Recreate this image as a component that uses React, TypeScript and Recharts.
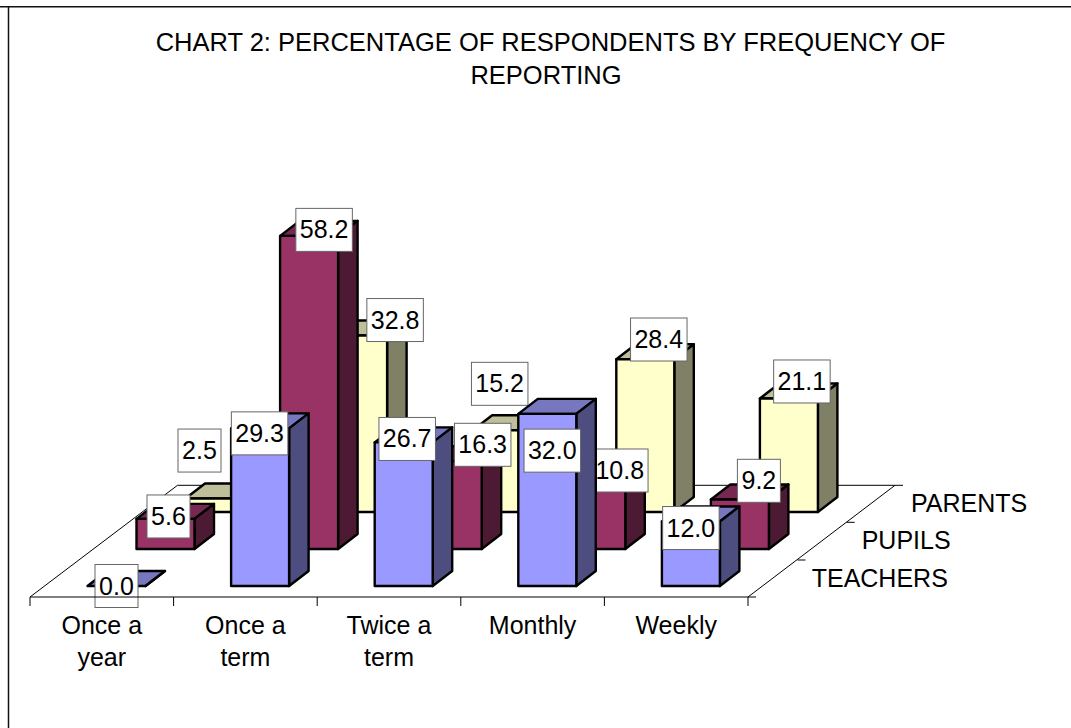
import { BarChart, Bar, XAxis, YAxis, LabelList, Customized } from 'recharts';

const categories = ['Once a year', 'Once a term', 'Twice a term', 'Monthly', 'Weekly'];
const teachers = [0.0, 29.3, 26.7, 32.0, 12.0];
const pupils = [5.6, 58.2, 16.3, 10.8, 9.2];
const parents = [2.5, 32.8, 15.2, 28.4, 21.1];

const titleLines = ['CHART 2: PERCENTAGE OF RESPONDENTS BY FREQUENCY OF', 'REPORTING'];

const FONT = '"Liberation Sans", Arial, sans-serif';
const FONT_SIZE = 25;
const TITLE_SIZE = 25.5;

// label boxes were dragged by hand in the original, so each one has its own shift
const teacherLabelShift = [[0, 0], [-0.5, 5], [3.5, -3.4], [5, 36.8], [0, 6.6]];
const pupilLabelShift = [[3, -2.4], [15, -6], [30, -16.5], [23.5, -20.4], [19, -18.7]];
const parentLabelShift = [[-15, -48], [37, -15.5], [-2, -46.4], [13.5, -19.7], [13, -17]];

const chartData = categories.map((name, i) => ({
  name,
  teachers: teachers[i],
  pupils: pupils[i],
  parents: parents[i],
}));

const PLOT = { left: 30, right: 748, bottom: 597 };
const BAND = (PLOT.right - PLOT.left) / categories.length;

// 3d look
const DEPTH_X = 19.5;
const DEPTH_Y = 15;

const teacherStyle = { front: '#9999ff', top: '#7777bf', side: '#4d4d80', dx: 14.5, dy: -11 };
const pupilStyle = { front: '#993366', top: '#772850', side: '#4d1a33', dx: 63.5, dy: -48 };
const parentStyle = { front: '#ffffcc', top: '#bfbf99', side: '#808066', dx: 112.5, dy: -85 };

function Box3D(props: any) {
  const { x, y, width, height, look } = props;
  const l = x + look.dx;
  const r = l + width;
  const t = y + look.dy;
  const b = t + height;
  const common = { stroke: '#000', strokeWidth: 2.4, strokeLinejoin: 'round' as const };
  return (
    <g>
      <polygon
        points={`${l},${t} ${l + DEPTH_X},${t - DEPTH_Y} ${r + DEPTH_X},${t - DEPTH_Y} ${r},${t}`}
        fill={look.top}
        {...common}
      />
      <polygon
        points={`${r},${t} ${r + DEPTH_X},${t - DEPTH_Y} ${r + DEPTH_X},${b - DEPTH_Y} ${r},${b}`}
        fill={look.side}
        {...common}
      />
      <rect x={l} y={t} width={width} height={height} fill={look.front} {...common} />
    </g>
  );
}

function ValueBox(props: any) {
  const { x, y, width, value, index, look, shifts } = props;
  const text = Number(value).toFixed(1);
  const cx = x + width / 2 + look.dx + shifts[index][0];
  const cy = y + look.dy + shifts[index][1];
  const w = text.length > 3 ? 56.5 : 43;
  return (
    <g>
      <rect x={cx - w / 2} y={cy - 21.5} width={w} height={43} fill="#fff" stroke="#666" strokeWidth={1} />
      <text x={cx} y={cy + 8.5} textAnchor="middle" fontFamily={FONT} fontSize={FONT_SIZE} fill="#000">
        {text}
      </text>
    </g>
  );
}

function CategoryTick(props: any) {
  const { x, payload, index } = props;
  const words = String(payload.value).split(' ');
  const lines = words.length > 1 ? [words.slice(0, -1).join(' '), words[words.length - 1]] : words;
  const last = index === categories.length - 1;
  return (
    <g>
      <line x1={x - BAND / 2} x2={x - BAND / 2} y1={PLOT.bottom} y2={PLOT.bottom + 9} stroke="#000" />
      {last && <line x1={x + BAND / 2} x2={x + BAND / 2} y1={PLOT.bottom} y2={PLOT.bottom + 9} stroke="#000" />}
      {lines.map((line, i) => (
        <text key={line} x={x} y={634 + i * 32} textAnchor="middle" fontFamily={FONT} fontSize={FONT_SIZE} fill="#000">
          {line}
        </text>
      ))}
    </g>
  );
}

function Frame() {
  const backY = 485.3;
  return (
    <g>
      <line x1={0} y1={6.7} x2={1071} y2={6.7} stroke="#111" strokeWidth={1.5} />
      <line x1={8.5} y1={6} x2={8.5} y2={728} stroke="#111" strokeWidth={1.5} />
      {titleLines.map((line, i) => (
        <text key={line} x={i === 0 ? 550.5 : 546} y={50.5 + i * 33} textAnchor="middle" fontFamily={FONT} fontSize={TITLE_SIZE} fill="#000">
          {line}
        </text>
      ))}
      {/* floor of the 3d box */}
      <line x1={PLOT.left} y1={PLOT.bottom} x2={177.5} y2={backY} stroke="#000" />
      <line x1={177.5} y1={backY} x2={895} y2={backY} stroke="#000" />
      <line x1={PLOT.right} y1={PLOT.bottom} x2={895} y2={backY} stroke="#000" />
      <line x1={895} y1={backY} x2={903} y2={backY} stroke="#000" />
      <line x1={846.7} y1={522.3} x2={854.7} y2={522.3} stroke="#000" />
      <line x1={797.5} y1={560} x2={805.5} y2={560} stroke="#000" />
      <line x1={PLOT.right} y1={PLOT.bottom} x2={756} y2={PLOT.bottom} stroke="#000" />
      <text x={911} y={511.7} fontFamily={FONT} fontSize={FONT_SIZE} fill="#000">PARENTS</text>
      <text x={861.7} y={549} fontFamily={FONT} fontSize={FONT_SIZE} fill="#000">PUPILS</text>
      <text x={811.7} y={586.7} fontFamily={FONT} fontSize={FONT_SIZE} fill="#000">TEACHERS</text>
    </g>
  );
}

export default function App() {
  return (
    <div style={{ position: 'absolute', left: 0, top: 0, width: 1071, height: 728, background: '#fff' }}>
      <BarChart
        width={1071}
        height={728}
        data={chartData}
        barSize={58}
        margin={{ top: 220.4, right: 1071 - PLOT.right, left: PLOT.left, bottom: 91 }}
      >
        <Customized component={<Frame />} />
        <XAxis xAxisId="mid" dataKey="name" hide height={0} />
        <XAxis xAxisId="back" dataKey="name" hide height={0} />
        <XAxis
          xAxisId="front"
          dataKey="name"
          height={40}
          interval={0}
          tickLine={false}
          axisLine={{ stroke: '#000' }}
          tick={<CategoryTick />}
        />
        <YAxis hide width={0} domain={[0, 70]} />
        {/* back to front, each series covers the labels of the one behind it */}
        <Bar xAxisId="back" dataKey="parents" zIndex={301} isAnimationActive={false} shape={<Box3D look={parentStyle} />}>
          <LabelList zIndex={302} content={<ValueBox look={parentStyle} shifts={parentLabelShift} />} />
        </Bar>
        <Bar xAxisId="mid" dataKey="pupils" zIndex={303} isAnimationActive={false} shape={<Box3D look={pupilStyle} />}>
          <LabelList zIndex={304} content={<ValueBox look={pupilStyle} shifts={pupilLabelShift} />} />
        </Bar>
        <Bar xAxisId="front" dataKey="teachers" zIndex={305} isAnimationActive={false} shape={<Box3D look={teacherStyle} />}>
          <LabelList zIndex={306} content={<ValueBox look={teacherStyle} shifts={teacherLabelShift} />} />
        </Bar>
      </BarChart>
    </div>
  );
}
